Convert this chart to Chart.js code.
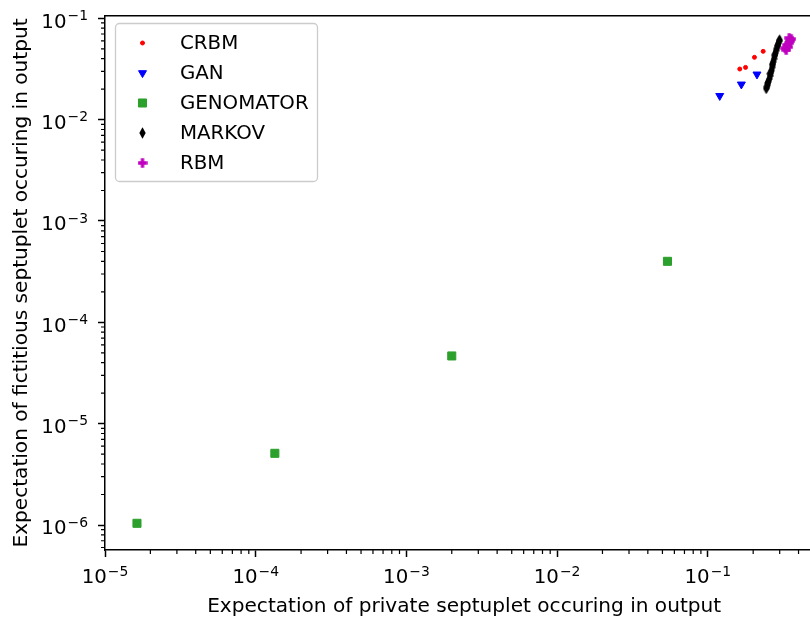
<!DOCTYPE html>
<html>
<head>
<meta charset="utf-8">
<script src="https://cdn.jsdelivr.net/npm/chart.js@4"></script>
<style>
  html, body { margin: 0; padding: 0; background: #fff; overflow: hidden; }
  #wrap { width: 830px; height: 619px; }
</style>
</head>
<body>
<div id="wrap"><canvas id="chart" width="830" height="619"></canvas></div>
<script>
// --- data -------------------------------------------------------------
const seriesNames = ['CRBM', 'GAN', 'GENOMATOR', 'MARKOV', 'RBM'];

const crbmX = [0.163, 0.178, 0.204, 0.233];
const crbmY = [0.0316, 0.0328, 0.0412, 0.0472];

const ganX = [0.120, 0.167, 0.212];
const ganY = [0.0172, 0.0223, 0.0280];

const genomatorX = [1.63e-5, 1.34e-4, 2.0e-3, 0.054];
const genomatorY = [1.04e-6, 5.1e-6, 4.66e-5, 4.0e-4];

const markovX = [0.244, 0.247, 0.250, 0.252, 0.256, 0.259, 0.262, 0.265, 0.267, 0.270,
                 0.272, 0.275, 0.278, 0.281, 0.284, 0.287, 0.290, 0.294, 0.297, 0.300,
                 0.249, 0.258, 0.268, 0.279, 0.291];
const markovY = [0.0203, 0.0212, 0.0221, 0.0236, 0.0252, 0.0270, 0.0288, 0.0305, 0.0328, 0.0347,
                 0.0372, 0.0398, 0.0428, 0.0452, 0.0480, 0.0505, 0.0535, 0.0568, 0.0595, 0.0610,
                 0.0230, 0.0284, 0.0355, 0.0440, 0.0540];

const rbmX = [0.326, 0.331, 0.336, 0.3415, 0.347, 0.352, 0.358, 0.347];
const rbmY = [0.0509, 0.0487, 0.0544, 0.0521, 0.0570, 0.0597, 0.0625, 0.0640];

const xTickLabels = ['10^−5', '10^−4', '10^−3', '10^−2', '10^−1'];
const yTickLabels = ['10^−6', '10^−5', '10^−4', '10^−3', '10^−2', '10^−1'];

const xLimits = [1e-5, 0.584];
const yLimits = [5.67e-7, 0.1054];

// --- helpers ----------------------------------------------------------
const FONT = '"DejaVu Sans", sans-serif';
const FONT_SIZE = 19.8;
const SUP_SIZE = 13.9;

function toPoints(xs, ys) {
  return xs.map((x, i) => ({ x, y: ys[i] }));
}

// 1..9 x 10^k ticks inside the limits; the 1 x 10^k ones are major
function logTicks(min, max) {
  const out = [];
  const lo = Math.floor(Math.log10(min));
  const hi = Math.floor(Math.log10(max));
  for (let k = lo; k <= hi; k++) {
    const base = Math.pow(10, k);
    for (let m = 1; m <= 9; m++) {
      const v = Number((m * base).toPrecision(6));
      if (v >= min * 0.9999 && v <= max * 1.0001) out.push({ value: v, major: m === 1 });
    }
  }
  return out;
}

function markerCanvas(w, h, color, draw) {
  const c = document.createElement('canvas');
  c.width = w;
  c.height = h;
  const g = c.getContext('2d');
  g.fillStyle = color;
  draw(g, w, h);
  return c;
}

// thin diamond ('d')
const thinDiamond = markerCanvas(7, 12, '#000000', (g, w, h) => {
  g.beginPath();
  g.moveTo(w / 2, 0.3);
  g.lineTo(w - 0.3, h / 2);
  g.lineTo(w / 2, h - 0.3);
  g.lineTo(0.3, h / 2);
  g.closePath();
  g.fill();
});

// filled plus ('P')
const filledPlus = markerCanvas(10, 10, '#bf00bf', (g, w, h) => {
  const a = w / 3;
  g.beginPath();
  g.moveTo(a, 0.3); g.lineTo(2 * a, 0.3); g.lineTo(2 * a, a);
  g.lineTo(w - 0.3, a); g.lineTo(w - 0.3, 2 * a); g.lineTo(2 * a, 2 * a);
  g.lineTo(2 * a, h - 0.3); g.lineTo(a, h - 0.3); g.lineTo(a, 2 * a);
  g.lineTo(0.3, 2 * a); g.lineTo(0.3, a); g.lineTo(a, a);
  g.closePath();
  g.fill();
});

// "10" with a raised, smaller exponent
function drawPower(ctx, text, x, baseline, align) {
  const [base, exp] = text.split('^');
  ctx.font = FONT_SIZE + 'px ' + FONT;
  const w1 = ctx.measureText(base).width;
  ctx.font = SUP_SIZE + 'px ' + FONT;
  const w2 = ctx.measureText(exp).width;
  const total = w1 + w2 + 1;
  const start = align === 'center' ? x - total / 2 : x - total;
  ctx.textAlign = 'left';
  ctx.textBaseline = 'alphabetic';
  ctx.font = FONT_SIZE + 'px ' + FONT;
  ctx.fillText(base, start, baseline);
  ctx.font = SUP_SIZE + 'px ' + FONT;
  ctx.fillText(exp, start + w1 + 1, baseline - 7.6);
}

// short minor ticks and power-of-ten tick labels
const logAxisDecor = {
  id: 'logAxisDecor',
  afterDraw(chart) {
    const { ctx, chartArea } = chart;
    const xs = chart.scales.x;
    const ys = chart.scales.y;
    ctx.save();
    ctx.strokeStyle = '#000';
    ctx.lineWidth = 1.2;
    ctx.beginPath();
    xs.ticks.forEach(t => {
      if (t.major) return;
      const px = xs.getPixelForValue(t.value);
      ctx.moveTo(px, chartArea.bottom);
      ctx.lineTo(px, chartArea.bottom + 4);
    });
    ys.ticks.forEach(t => {
      if (t.major) return;
      const py = ys.getPixelForValue(t.value);
      ctx.moveTo(chartArea.left - 4, py);
      ctx.lineTo(chartArea.left, py);
    });
    ctx.stroke();

    ctx.fillStyle = '#000';
    xs.ticks.filter(t => t.major).forEach((t, i) => {
      drawPower(ctx, xTickLabels[i], xs.getPixelForValue(t.value), chartArea.bottom + 33.3, 'center');
    });
    ys.ticks.filter(t => t.major).forEach((t, i) => {
      drawPower(ctx, yTickLabels[i], chartArea.left - 17, ys.getPixelForValue(t.value) + 9.3, 'right');
    });
    ctx.restore();
  }
};

// framed legend in the upper left corner
const boxLegend = {
  id: 'boxLegend',
  afterDraw(chart) {
    const ctx = chart.ctx;
    ctx.save();
    ctx.beginPath();
    ctx.roundRect(115.5, 23.5, 202, 158, 4);
    ctx.fillStyle = 'rgba(255,255,255,0.8)';
    ctx.fill();
    ctx.strokeStyle = '#cccccc';
    ctx.lineWidth = 1.3;
    ctx.stroke();

    chart.data.datasets.forEach((ds, i) => {
      const y = 43 + i * 30;
      ctx.fillStyle = ds.backgroundColor;
      ctx.strokeStyle = ds.borderColor;
      ctx.lineWidth = ds.borderWidth;
      Chart.helpers.drawPoint(ctx, {
        pointStyle: ds.pointStyle,
        rotation: ds.pointRotation || 0,
        radius: ds.pointRadius,
        borderWidth: ds.borderWidth
      }, 142.5, y);
      ctx.fillStyle = '#000';
      ctx.font = FONT_SIZE + 'px ' + FONT;
      ctx.textBaseline = 'middle';
      ctx.textAlign = 'left';
      ctx.fillText(ds.label, 180, y + 1);
    });
    ctx.restore();
  }
};

// --- chart ------------------------------------------------------------
const datasets = [
  { label: seriesNames[0], data: toPoints(crbmX, crbmY), pointStyle: 'circle',
    pointRadius: 2, backgroundColor: '#ff0000', borderColor: '#ff0000', borderWidth: 1 },
  { label: seriesNames[1], data: toPoints(ganX, ganY), pointStyle: 'triangle', pointRotation: 180,
    pointRadius: 4.6, backgroundColor: '#0000ff', borderColor: '#0000ff', borderWidth: 1 },
  { label: seriesNames[2], data: toPoints(genomatorX, genomatorY), pointStyle: 'rect',
    pointRadius: 5.7, backgroundColor: '#2ca02c', borderColor: '#2ca02c', borderWidth: 1 },
  { label: seriesNames[3], data: toPoints(markovX, markovY), pointStyle: thinDiamond,
    pointRadius: 6, backgroundColor: '#000000', borderColor: '#000000', borderWidth: 0 },
  { label: seriesNames[4], data: toPoints(rbmX, rbmY), pointStyle: filledPlus,
    pointRadius: 5, backgroundColor: '#bf00bf', borderColor: '#bf00bf', borderWidth: 0 }
];

const axisTitleFont = { family: FONT, size: 20.1 };

new Chart(document.getElementById('chart'), {
  type: 'scatter',
  data: { datasets },
  options: {
    responsive: false,
    animation: false,
    events: [],
    layout: { padding: 0 },
    plugins: {
      legend: { display: false },
      tooltip: { enabled: false }
    },
    scales: {
      x: {
        type: 'logarithmic',
        position: 'bottom',
        min: xLimits[0],
        max: xLimits[1],
        afterBuildTicks: s => { s.ticks = logTicks(xLimits[0], xLimits[1]); },
        afterFit: s => { s.height = 69; },
        ticks: { display: false, autoSkip: false, maxRotation: 0 },
        grid: {
          drawOnChartArea: false,
          tickLength: 7,
          tickWidth: 1.5,
          tickColor: c => (c.tick && c.tick.major) ? '#000' : 'rgba(0,0,0,0)'
        },
        border: { display: true, color: '#000', width: 1.5 },
        title: {
          display: true,
          text: 'Expectation of private septuplet occuring in output',
          color: '#000',
          font: axisTitleFont,
          padding: { top: 0, bottom: 0 }
        }
      },
      xTop: {
        type: 'logarithmic',
        position: 'top',
        min: xLimits[0],
        max: xLimits[1],
        ticks: { display: false },
        grid: { display: false },
        border: { display: true, color: '#000', width: 1.5 },
        afterFit: s => { s.height = 16; }
      },
      y: {
        type: 'logarithmic',
        position: 'left',
        min: yLimits[0],
        max: yLimits[1],
        afterBuildTicks: s => { s.ticks = logTicks(yLimits[0], yLimits[1]); },
        afterFit: s => { s.width = 105; },
        ticks: { display: false, autoSkip: false },
        grid: {
          drawOnChartArea: false,
          tickLength: 7,
          tickWidth: 1.5,
          tickColor: c => (c.tick && c.tick.major) ? '#000' : 'rgba(0,0,0,0)'
        },
        border: { display: true, color: '#000', width: 1.5 },
        title: {
          display: true,
          text: 'Expectation of fictitious septuplet occuring in output',
          color: '#000',
          font: axisTitleFont,
          padding: { top: 10, bottom: 0 }
        }
      }
    }
  },
  plugins: [logAxisDecor, boxLegend]
});
</script>
</body>
</html>
